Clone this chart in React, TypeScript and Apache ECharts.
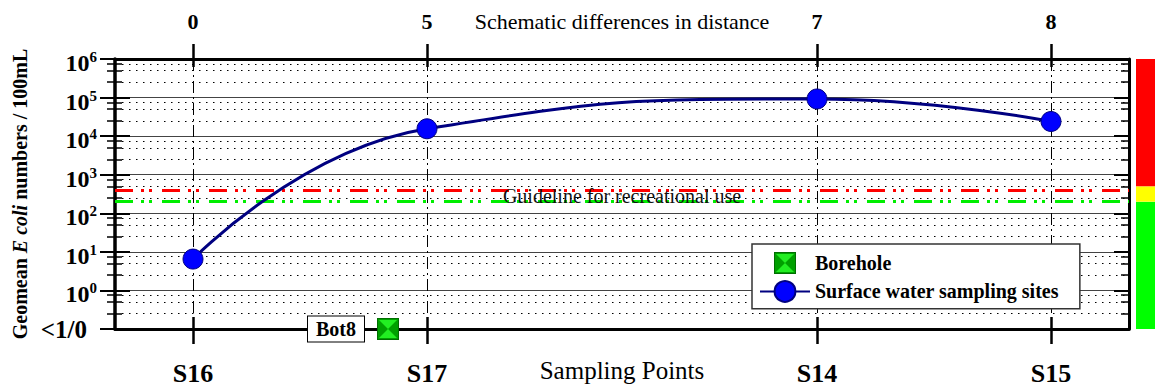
import React, { useEffect, useRef } from 'react';
import * as echarts from 'echarts';

// ---------- data ----------
const sites = ['S16', 'S17', 'S14', 'S15'];
const sitePositions = [1, 4, 9, 12];
const distances = ['0', '5', '7', '8'];
const surfaceGeomean = [6.5, 15500, 92000, 24000];
const boreholeNames = ['Bot8'];
const boreholePositions = [3.5];
const boreholeGeomean = [0]; // below detection -> "<1/0" level
const guidelineUpper = 400;
const guidelineLower = 200;
const guidelineText = 'Guideline for recreational use';
const bandLimits = [0.1, 200, 500, 1000000];
const bandColors = ['#00ff00', '#ffff00', '#ff0000'];
const yExponents = [-1, 0, 1, 2, 3, 4, 5, 6];
const minorMultipliers = [2.5, 5, 7.5];

const SERIF = '"Liberation Serif", "Times New Roman", serif';

const toLog = (v: number) => (v <= 0.1 ? -1 : Math.log10(v));
const minorValues: number[] = [];
yExponents.slice(0, -1).forEach((e) => minorMultipliers.forEach((m) => minorValues.push(e + Math.log10(m))));

const idxOf = (arr: number[], v: number) => arr.findIndex((a) => Math.abs(a - v) < 1e-6);

const boreholeSvg = (pad: number) =>
  `<svg xmlns="http://www.w3.org/2000/svg" width="${22 + 2 * pad}" height="${22 + 2 * pad}" viewBox="${-pad} ${-pad} ${22 + 2 * pad} ${22 + 2 * pad}">` +
  `<rect x="0.5" y="0.5" width="21" height="21" fill="#00a000" stroke="#006e00" stroke-width="1"/>` +
  `<polygon points="2,2 20,2 11,11" fill="#22ee22"/><polygon points="2,20 20,20 11,11" fill="#22ee22"/></svg>`;
const boreholeIcon = 'image://data:image/svg+xml;charset=utf-8,' + encodeURIComponent(boreholeSvg(0));
const boreholeLegendIcon = 'image://data:image/svg+xml;charset=utf-8,' + encodeURIComponent(boreholeSvg(2));

export default function App() {
  const ref = useRef<HTMLDivElement>(null);
  useEffect(() => {
    document.body.style.margin = '0';
    const chart = echarts.init(ref.current!, null, { renderer: 'svg' });
    const yBase = { type: 'value', min: -1, max: 6, interval: 1, gridIndex: 0 };
    const xBase = { type: 'value', min: 0, max: 13, gridIndex: 0 };
    const noLine = { show: false, onZero: false };
    const black = '#000';

    const option: any = {
      animation: false,
      backgroundColor: '#fff',
      textStyle: { fontFamily: SERIF },
      grid: [
        { left: 115, right: 26, top: 59, bottom: 58, containLabel: false, outerBoundsMode: 'none' },
        { left: 1136, right: 0, top: 59, bottom: 58, containLabel: false, outerBoundsMode: 'none' },
      ],
      legend: {
        left: 752,
        top: 244,
        orient: 'vertical',
        data: [{ name: 'Borehole', icon: boreholeLegendIcon }, { name: 'Surface water sampling sites' }],
        itemWidth: 50,
        itemHeight: 26,
        itemGap: 4,
        padding: [6, 21, 6, 7],
        backgroundColor: '#fff',
        borderColor: '#333',
        borderWidth: 1.5,
        selectedMode: false,
        textStyle: { fontSize: 20, fontWeight: 'bold', fontFamily: SERIF, color: black },
      },
      xAxis: [
        {
          ...xBase,
          position: 'bottom',
          axisLine: { show: true, onZero: false, lineStyle: { color: black, width: 3 } },
          axisTick: { show: true, customValues: sitePositions, length: 15, lineStyle: { color: black, width: 2.5 } },
          axisLabel: {
            customValues: sitePositions,
            formatter: (v: number) => sites[idxOf(sitePositions, v)] ?? '',
            margin: 31,
            fontSize: 26,
            fontWeight: 'bold',
            fontFamily: SERIF,
            color: black,
          },
          splitLine: { show: true, lineStyle: { type: [12, 4, 2, 4], color: black, width: 1 } },
          name: 'Sampling Points',
          nameLocation: 'middle',
          nameGap: 29,
          nameMoveOverlap: false,
          nameTextStyle: { fontSize: 25, fontFamily: SERIF, color: black },
        },
        {
          ...xBase,
          position: 'bottom',
          axisLine: noLine,
          axisTick: { show: true, inside: true, customValues: sitePositions, length: 12, lineStyle: { color: black, width: 2.5 } },
          axisLabel: { show: false },
          splitLine: { show: false },
        },
        {
          ...xBase,
          position: 'top',
          axisLine: { show: true, onZero: false, lineStyle: { color: black, width: 3 } },
          axisTick: { show: true, customValues: sitePositions, length: 15, lineStyle: { color: black, width: 2.5 } },
          axisLabel: {
            customValues: sitePositions,
            formatter: (v: number) => distances[idxOf(sitePositions, v)] ?? '',
            margin: 27,
            fontSize: 22,
            fontWeight: 'bold',
            fontFamily: SERIF,
            color: black,
          },
          splitLine: { show: false },
          name: 'Schematic differences in distance',
          nameLocation: 'middle',
          nameGap: 27,
          nameMoveOverlap: false,
          nameTextStyle: { fontSize: 22, fontFamily: SERIF, color: black },
        },
        {
          ...xBase,
          position: 'top',
          axisLine: noLine,
          axisTick: { show: true, inside: true, customValues: sitePositions, length: 8, lineStyle: { color: black, width: 2.5 } },
          axisLabel: { show: false },
          splitLine: { show: false },
        },
        { gridIndex: 1, type: 'value', min: 0, max: 1, show: false },
      ],
      yAxis: [
        {
          ...yBase,
          position: 'left',
          axisLine: { show: true, onZero: false, lineStyle: { color: black, width: 3.5 } },
          axisTick: { show: true, length: 15, lineStyle: { color: black, width: 2 } },
          axisLabel: {
            margin: 18,
            color: black,
            formatter: (v: number) => (v === -1 ? '{c|<1/0}' : `{b|10}{s|${v}}`),
            rich: {
              b: { fontSize: 24, fontWeight: 'bold', fontFamily: SERIF, color: black, lineHeight: 31, padding: [8, 0, 0, 0] },
              s: { fontSize: 15, fontWeight: 'bold', fontFamily: SERIF, color: black, verticalAlign: 'top', lineHeight: 16, padding: [6, 0, 0, 0] },
              c: { fontSize: 25, fontWeight: 'bold', fontFamily: SERIF, color: black, padding: [0, 10, 0, 0] },
            },
          },
          splitLine: { show: true, lineStyle: { color: '#444', width: 1 } },
          name: 'Geomean {i|E coli} numbers / 100mL',
          nameLocation: 'middle',
          nameGap: 85,
          nameMoveOverlap: false,
          nameTextStyle: {
            fontSize: 20,
            fontWeight: 'bold',
            fontFamily: SERIF,
            color: black,
            rich: { i: { fontSize: 20, fontWeight: 'bold', fontStyle: 'italic', fontFamily: SERIF, color: black } },
          },
        },
        {
          ...yBase,
          position: 'left',
          axisLine: noLine,
          axisTick: { show: true, inside: true, length: 15, lineStyle: { color: black, width: 2 } },
          axisLabel: { show: false },
          splitLine: { show: false },
        },
        {
          ...yBase,
          position: 'left',
          axisLine: noLine,
          axisTick: { show: true, customValues: minorValues, length: 8, lineStyle: { color: black, width: 1.5 } },
          axisLabel: { show: false },
          splitLine: { show: true, lineStyle: { type: [1.5, 5.5], color: black, width: 1.2 } },
        },
        {
          ...yBase,
          position: 'left',
          axisLine: noLine,
          axisTick: { show: true, inside: true, customValues: minorValues, length: 7, lineStyle: { color: black, width: 1.5 } },
          axisLabel: { show: false },
          splitLine: { show: false },
        },
        {
          ...yBase,
          position: 'right',
          axisLine: { show: true, onZero: false, lineStyle: { color: black, width: 3 } },
          axisTick: { show: true, inside: true, length: 15, lineStyle: { color: black, width: 2 } },
          axisLabel: { show: false },
          splitLine: { show: false },
        },
        {
          ...yBase,
          position: 'right',
          axisLine: noLine,
          axisTick: { show: true, inside: true, customValues: minorValues, length: 8, lineStyle: { color: black, width: 1.5 } },
          axisLabel: { show: false },
          splitLine: { show: false },
        },
        { gridIndex: 1, type: 'value', min: -1, max: 6, show: false },
      ],
      series: [
        {
          type: 'custom',
          xAxisIndex: 4,
          yAxisIndex: 6,
          silent: true,
          data: bandColors.map((_, i) => [0, toLog(bandLimits[i]), toLog(bandLimits[i + 1])]),
          encode: { x: 0, y: [1, 2] },
          renderItem: (params: any, api: any) => {
            const tl = api.coord([0, api.value(2)]);
            const br = api.coord([1, api.value(1)]);
            return {
              type: 'rect',
              shape: { x: tl[0], y: tl[1], width: br[0] - tl[0], height: br[1] - tl[1] },
              style: { fill: bandColors[params.dataIndex] },
            };
          },
        },
        {
          name: 'Surface water sampling sites',
          type: 'line',
          xAxisIndex: 0,
          yAxisIndex: 0,
          data: sitePositions.map((x, i) => [x, toLog(surfaceGeomean[i])]),
          smooth: 0.5,
          symbol: 'circle',
          symbolSize: 20,
          lineStyle: { color: '#000080', width: 3 },
          itemStyle: { color: '#0000ff', borderColor: '#000080', borderWidth: 1 },
          z: 5,
          markLine: {
            silent: true,
            symbol: 'none',
            animation: false,
            data: [
              {
                yAxis: toLog(guidelineUpper),
                lineStyle: { color: '#ff0000', width: 3, type: [18, 8, 3, 5, 3, 10] },
                label: { show: false },
              },
              {
                yAxis: toLog(guidelineLower),
                lineStyle: { color: '#00ee00', width: 3, type: [18, 8, 3, 5, 3, 10] },
                label: {
                  show: true,
                  position: 'middle',
                  distance: -4,
                  formatter: guidelineText,
                  fontSize: 20,
                  fontFamily: SERIF,
                  color: '#111',
                },
              },
            ],
          },
        },
        {
          name: 'Borehole',
          type: 'scatter',
          xAxisIndex: 0,
          yAxisIndex: 0,
          clip: false,
          symbol: boreholeIcon,
          symbolSize: 22,
          z: 6,
          data: boreholePositions.map((x, i) => ({ name: boreholeNames[i], value: [x, toLog(boreholeGeomean[i])] })),
          itemStyle: { opacity: 1 },
          label: {
            show: true,
            position: 'left',
            distance: 13,
            formatter: '{b}',
            fontSize: 20,
            fontWeight: 'bold',
            fontFamily: SERIF,
            color: black,
            opacity: 1,
            backgroundColor: '#fff',
            borderColor: black,
            borderWidth: 1,
            padding: [3, 8, 2, 8],
          },
        },
      ],
    };
    chart.setOption(option);
    return () => chart.dispose();
  }, []);
  return <div ref={ref} style={{ position: 'fixed', left: 0, top: 0, width: 1155, height: 387 }} />;
}
